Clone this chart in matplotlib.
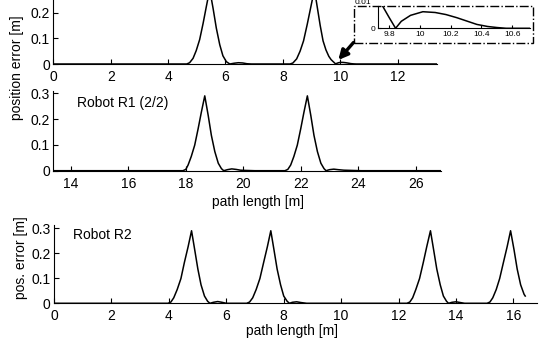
import matplotlib.pyplot as plt
from matplotlib.patches import Rectangle

plt.rcParams['font.family'] = ['Liberation Sans', 'DejaVu Sans']
plt.rcParams['font.size'] = 10

# robot R1, first half of the path
r1a_len = [0, 4.5, 4.65, 4.75, 4.87, 4.98, 5.1, 5.22, 5.33, 5.45, 5.57, 5.68, 5.8,
           5.91, 6.03, 6.15, 6.3, 6.45, 6.6, 6.75, 6.9, 8.1, 8.25, 8.35, 8.48, 8.6,
           8.72, 8.85, 8.97, 9.1, 9.2, 9.3, 9.4, 9.5, 9.6, 9.68, 9.75, 9.8, 9.843,
           9.88, 9.94, 10.02, 10.1, 10.17, 10.24, 10.3, 10.37, 10.44, 10.5, 10.56,
           11.0, 13.36]
r1a_err = [0, 0, 0, 0.005, 0.022, 0.052, 0.095, 0.158, 0.222, 0.29, 0.215, 0.14, 0.075,
           0.032, 0.009, 0, 0.003, 0.005, 0.004, 0.001, 0, 0, 0, 0.004, 0.02, 0.05,
           0.09, 0.155, 0.22, 0.29, 0.22, 0.15, 0.09, 0.055, 0.03, 0.017, 0.0095, 0.0043, 0,
           0.0027, 0.005, 0.0064, 0.0061, 0.0053, 0.0041, 0.0029, 0.0015, 0.0007, 0.0003, 0,
           0, 0]

# robot R1, second half
r1b_len = [13.39, 17.8, 17.9, 18.0, 18.08, 18.19, 18.31, 18.43, 18.54, 18.66, 18.78,
           18.89, 19.01, 19.13, 19.24, 19.32, 19.45, 19.6, 19.75, 19.9, 20.1, 20.4,
           21.45, 21.55, 21.65, 21.76, 21.88, 22.0, 22.11, 22.23, 22.35, 22.46, 22.58,
           22.7, 22.81, 22.88, 23.0, 23.15, 23.3, 23.5, 23.8, 24.1, 26.88]
r1b_err = [0, 0, 0, 0.005, 0.022, 0.055, 0.099, 0.163, 0.226, 0.29, 0.214,
           0.137, 0.074, 0.029, 0.008, 0, 0.004, 0.007, 0.005, 0.002, 0.001, 0,
           0, 0.005, 0.022, 0.055, 0.099, 0.163, 0.226, 0.29, 0.214, 0.137, 0.074,
           0.029, 0.008, 0, 0.004, 0.006, 0.004, 0.002, 0.001, 0, 0]

# robot R2
r2_len = [0, 3.85, 3.97, 4.07, 4.17, 4.29, 4.42, 4.54, 4.67, 4.79, 4.9, 5.01, 5.12,
          5.24, 5.35, 5.43, 5.55, 5.7, 5.85, 6.0, 6.71, 6.81, 6.92, 7.04, 7.17,
          7.3, 7.43, 7.55, 7.66, 7.77, 7.89, 8.0, 8.12, 8.2, 8.3, 8.45, 8.6, 8.8,
          12.29, 12.39, 12.49, 12.6, 12.73, 12.86, 12.98, 13.11, 13.22, 13.33, 13.45,
          13.56, 13.67, 13.74, 13.86, 14.0, 14.15, 14.3, 15.08, 15.18, 15.28, 15.4,
          15.52, 15.65, 15.78, 15.9, 16.02, 16.13, 16.25, 16.37, 16.41]
r2_err = [0, 0, 0, 0.005, 0.022, 0.055, 0.099, 0.163, 0.226, 0.29, 0.214, 0.137, 0.074,
          0.029, 0.008, 0, 0.004, 0.007, 0.004, 0, 0, 0.005, 0.022, 0.055, 0.099,
          0.163, 0.226, 0.29, 0.214, 0.137, 0.074, 0.029, 0.008, 0, 0.004, 0.006, 0.003, 0,
          0, 0.005, 0.022, 0.055, 0.099, 0.163, 0.226, 0.29, 0.214, 0.137, 0.074,
          0.029, 0.008, 0, 0.004, 0.006, 0.003, 0, 0, 0.005, 0.022, 0.055,
          0.099, 0.163, 0.226, 0.29, 0.214, 0.137, 0.074, 0.036, 0.029]

W, H = 542, 341
fig = plt.figure(figsize=(W / 100, H / 100), dpi=100)


def px_axes(left, top, right, bottom):
    return fig.add_axes([left / W, 1 - bottom / H, (right - left) / W, (bottom - top) / H])


def style(ax, fs=10, length=3.5, xpad=4.2, ypad=2.5):
    for s in ['top', 'right']:
        ax.spines[s].set_visible(False)
    ax.tick_params(direction='in', length=length, labelsize=fs, width=0.8)
    ax.tick_params(axis='x', pad=xpad)
    ax.tick_params(axis='y', pad=ypad)
    ax.patch.set_alpha(0)


ax1 = px_axes(53.3, 64 - 0.3 * 257, 436.7, 64)
ax1.plot(r1a_len, r1a_err, color='k', lw=1.1)
ax1.set_xlim(0, 13.36)
ax1.set_ylim(0, 0.3)
ax1.set_xticks([0, 2, 4, 6, 8, 10, 12])
ax1.set_yticks([0, 0.1, 0.2])
ax1.set_yticklabels(['0', '0.1', '0.2'])
style(ax1)

ax2 = px_axes(53.3, 90.7, 441, 170.7)
ax2.plot(r1b_len, r1b_err, color='k', lw=1.1)
ax2.set_xlim(13.39, 26.88)
ax2.set_ylim(0, 0.31)
ax2.set_xticks([14, 16, 18, 20, 22, 24, 26])
ax2.set_yticks([0, 0.1, 0.2, 0.3])
ax2.set_yticklabels(['0', '0.1', '0.2', '0.3'])
style(ax2)
ax2.text(76.7 / W, 1 - 103.3 / H, 'Robot R1 (2/2)', transform=fig.transFigure,
         va='center', ha='left')

ax3 = px_axes(54, 225, 537, 303.3)
ax3.plot(r2_len, r2_err, color='k', lw=1.1)
ax3.set_xlim(0, 16.82)
ax3.set_ylim(0, 0.313)
ax3.set_xticks([0, 2, 4, 6, 8, 10, 12, 14, 16])
ax3.set_yticks([0, 0.1, 0.2, 0.3])
ax3.set_yticklabels(['0', '0.1', '0.2', '0.3'])
style(ax3)
ax3.text(72.7 / W, 1 - 235 / H, 'Robot R2', transform=fig.transFigure,
         va='center', ha='left')

fig.text(17.5 / W, 1 - 68 / H, 'position error [m]', rotation=90, ha='center', va='center')
fig.text(21 / W, 1 - 258 / H, 'pos. error [m]', rotation=90, ha='center', va='center')
fig.text(258 / W, 1 - 201.7 / H, 'path length [m]', ha='center', va='center')
fig.text(292.5 / W, 1 - 330.5 / H, 'path length [m]', ha='center', va='center')

# zoomed inset of the small bump after the second peak
axi = px_axes(377.7, 5.5, 530, 28.3)
axi.plot(r1a_len, r1a_err, color='k', lw=1.1)
axi.set_xlim(9.727, 10.715)
axi.set_ylim(0, 0.0088)
axi.set_xticks([9.8, 10, 10.2, 10.4, 10.6])
axi.set_xticklabels(['9.8', '10', '10.2', '10.4', '10.6'])
axi.set_yticks([0])
axi.set_yticklabels(['0'])
style(axi, fs=6, length=2.5, xpad=2, ypad=2)
# upper tick label of the inset sits above the cropped top edge
axi.text(-0.045, 0.01, '0.01', transform=axi.get_yaxis_transform(), fontsize=6,
         ha='right', va='center', clip_on=False)

fig.add_artist(Rectangle((354 / W, 1 - 42.7 / H), (532.7 - 354) / W, (42.7 - 6) / H,
                         transform=fig.transFigure, fill=False, ls='-.', lw=1, color='k'))

ax1.annotate('', xy=(338.3, H - 60), xycoords='figure pixels',
             xytext=(353.5, H - 42.5), textcoords='figure pixels',
             arrowprops=dict(arrowstyle='-|>', lw=2.4, color='k', mutation_scale=14,
                             shrinkA=0, shrinkB=0))

fig.savefig('out.png', dpi=100)
